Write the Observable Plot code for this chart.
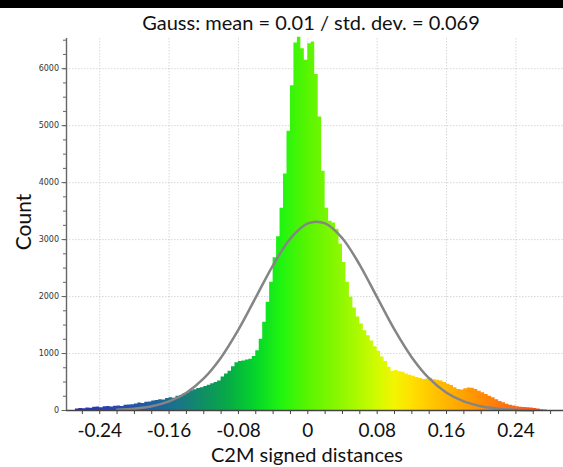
<!DOCTYPE html>
<html>
<head>
<meta charset="utf-8">
<script src="https://cdn.jsdelivr.net/npm/d3@7"></script>
<script src="https://cdn.jsdelivr.net/npm/@observablehq/plot@0.6"></script>
<style>
  body { margin: 0; background: #fff; }
  #wrap { position: relative; width: 563px; height: 467px; overflow: hidden; font-family: Lato, "Open Sans", sans-serif; color: #111; }
  #band { position: absolute; left: 0; top: 0; width: 563px; height: 8px; background: #000; }
  #title { position: absolute; left: 311px; top: 12px; transform: translateX(-50%); white-space: nowrap; font-size: 20px; line-height: 20px; }
  #xlabel { position: absolute; left: 307px; top: 444px; transform: translateX(-50%); white-space: nowrap; font-size: 20px; line-height: 20px; }
  #ylabel { position: absolute; left: 22px; top: 222px; transform: translate(-50%, -50%) rotate(-90deg); white-space: nowrap; font-size: 21px; line-height: 21px; }
  #chart { position: absolute; left: 0; top: 0; }
</style>
</head>
<body>
<div id="wrap">
  <div id="chart"></div>
  <div id="band"></div>
  <div id="title">Gauss: mean = 0.01 / std. dev. = 0.069</div>
  <div id="xlabel">C2M signed distances</div>
  <div id="ylabel">Count</div>
</div>
<script>
// ---- data ----
const binStart = -0.268;
const binWidth = 0.004;
const counts = [
  25, 35, 30, 45, 40, 55, 60, 50, 65, 70,
  62, 75, 80, 72, 90, 95, 100, 115, 130, 125,
  145, 150, 165, 175, 190, 185, 210, 225, 215, 250,
  265, 290, 310, 345, 365, 385, 400, 420, 445, 470,
  490, 520, 590, 640, 690, 770, 840, 860, 870, 885,
  900, 950, 1050, 1250, 1550, 1900, 2250, 2680, 3050, 3550,
  4150, 4900, 5700, 6450, 6550, 6350, 6150, 6440, 6470, 5900,
  5150, 4200, 3550, 3320, 3290, 3180, 2920, 2600, 2250, 1990,
  1800, 1640, 1520, 1400, 1310, 1220, 1120, 1040, 940, 860,
  760, 690, 700, 680, 670, 640, 620, 600, 580, 560,
  545, 555, 565, 540, 530, 520, 490, 460, 440, 400,
  370, 360, 380, 395, 390, 370, 340, 310, 280, 250,
  225, 190, 160, 135, 110, 90, 78, 65, 58, 52,
  48, 42, 35, 25, 15, 8
];
const gaussX = [-0.22, -0.20, -0.18, -0.16, -0.14, -0.12, -0.10, -0.08, -0.06, -0.04, -0.02, 0.00,
                0.02, 0.04, 0.06, 0.08, 0.10, 0.12, 0.14, 0.16, 0.18, 0.20, 0.22, 0.24, 0.26];
const gaussY = [13, 32, 75, 160, 312, 563, 932, 1418, 1985, 2553, 3020, 3285,
                3285, 3020, 2553, 1985, 1418, 932, 563, 312, 160, 75, 32, 13, 5];
const xTickLabels = [-0.24, -0.16, -0.08, 0, 0.08, 0.16, 0.24];
const xMinorTicks = [-0.26, -0.24, -0.22, -0.20, -0.18, -0.16, -0.14, -0.12, -0.10, -0.08, -0.06, -0.04, -0.02, 0,
                     0.02, 0.04, 0.06, 0.08, 0.10, 0.12, 0.14, 0.16, 0.18, 0.20, 0.22, 0.24, 0.26, 0.28];
const yTicks = [0, 1000, 2000, 3000, 4000, 5000, 6000];
const yMinorTicks = [0, 250, 500, 750, 1000, 1250, 1500, 1750, 2000, 2250, 2500, 2750, 3000, 3250,
                     3500, 3750, 4000, 4250, 4500, 4750, 5000, 5250, 5500, 5750, 6000, 6250, 6500];
const colorStops = [-0.27, -0.22, -0.18, -0.15, -0.12, -0.09, -0.06, -0.03, 0.00, 0.04, 0.08, 0.10, 0.12, 0.15, 0.19, 0.23, 0.27];
const colorValues = ["#2b2bb0", "#2848b0", "#1f5fa0", "#1a7488", "#0f8f62", "#06ac45", "#05d52a", "#20f510",
                     "#58f500", "#90f800", "#d0fb00", "#f2f500", "#ffe000", "#ffc000", "#ff9800", "#ff7010", "#ff4a18"];

// ---- tables built from the arrays ----
const steps = counts.map((c, i) => ({x: binStart + i * binWidth, y: c}));
steps.push({x: binStart + counts.length * binWidth, y: counts[counts.length - 1]});
const gauss = gaussX.map((x, i) => ({x, y: gaussY[i]}));
const blank = () => "";

const plot = Plot.plot({
  width: 563,
  height: 467,
  marginLeft: 66,
  marginRight: 0,
  marginTop: 38,
  marginBottom: 57,
  style: {background: "transparent", overflow: "visible"},
  x: {domain: [-0.2783, 0.2949]},
  y: {domain: [0, 6530]},
  marks: [
    Plot.gridY(yTicks.slice(1), {stroke: "#b8b8b8", strokeOpacity: 0.55, strokeDasharray: "1.5,1.5"}),
    Plot.gridX(xTickLabels, {stroke: "#b8b8b8", strokeOpacity: 0.55, strokeDasharray: "1.5,1.5"}),
    Plot.areaY(steps, {x: "x", y: "y", curve: "step-after", fill: "url(#histGrad)"}),
    Plot.line(gauss, {x: "x", y: "y", curve: "catmull-rom", stroke: "#858585", strokeWidth: 2.5}),
    Plot.ruleY([0], {stroke: "#444", strokeWidth: 1.4}),
    Plot.ruleX([-0.2783], {stroke: "#666", strokeWidth: 1.4}),
    Plot.axisX(xMinorTicks, {tickSize: 4, tickFormat: blank, stroke: "#444", label: null}),
    Plot.text(xTickLabels, {x: d => d, y: 0, dy: 20, text: d => d === 0 ? "0" : d.toFixed(2), fontSize: 19, fill: "#111", fontFamily: "Lato, sans-serif", lineAnchor: "middle"}),
    Plot.axisY(yMinorTicks, {tickSize: 3, tickFormat: blank, stroke: "#666", label: null}),
    Plot.axisY(yTicks, {tickSize: 4.5, tickPadding: 3, fontSize: 8, fontFamily: "DejaVu Sans, sans-serif", fill: "#333", stroke: "#666", label: null, tickFormat: d => String(d)})
  ]
});

// gradient fill for the histogram, laid out along the plot's x scale
const xs = plot.scale("x");
const defs = d3.select(plot).insert("defs", ":first-child");
const s0 = colorStops[0], s1 = colorStops[colorStops.length - 1];
const grad = defs.append("linearGradient")
  .attr("id", "histGrad")
  .attr("gradientUnits", "userSpaceOnUse")
  .attr("x1", xs.apply(s0)).attr("x2", xs.apply(s1))
  .attr("y1", 0).attr("y2", 0);
colorStops.forEach((s, i) => grad.append("stop").attr("offset", (s - s0) / (s1 - s0)).attr("stop-color", colorValues[i]));

document.getElementById("chart").appendChild(plot);
</script>
</body>
</html>
